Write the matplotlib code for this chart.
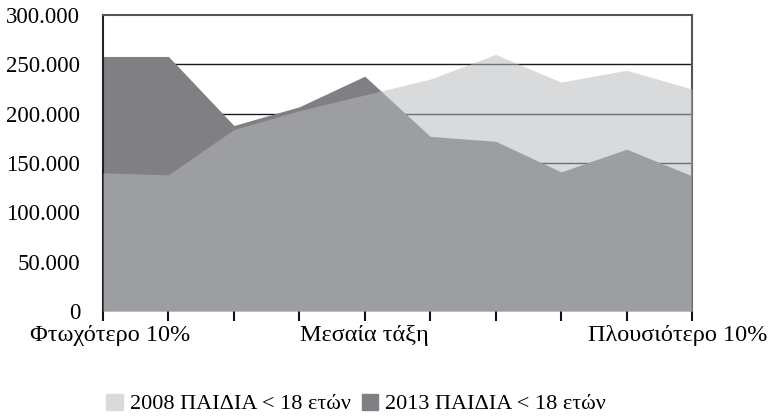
import numpy as np
import matplotlib.pyplot as plt
from matplotlib.patches import Patch
from matplotlib.transforms import ScaledTranslation

# Income deciles, poorest to richest
deciles = np.arange(10)
tick_labels = ["Φτωχότερο 10%", "", "", "", "Μεσαία τάξη", "", "", "", "", "Πλουσιότερο 10%"]

# Children under 18 per decile
kids_2008 = [140000, 138000, 184000, 203000, 219000, 235000, 260000, 232000, 244000, 225000]
kids_2013 = [258000, 258000, 188000, 207000, 238000, 177000, 172000, 141000, 164000, 137000]

y_ticks = [0, 50000, 100000, 150000, 200000, 250000, 300000]
y_labels = ["0", "50.000", "100.000", "150.000", "200.000", "250.000", "300.000"]

plt.rcParams['font.family'] = ['Liberation Serif', 'DejaVu Serif']

fig = plt.figure(figsize=(7.72, 4.16), dpi=100)
ax = fig.add_axes([103 / 772, 1 - 311 / 416, 589 / 772, 296 / 416])

# gridlines sit below both areas
for v in y_ticks[1:-1]:
    ax.axhline(v, color='#1a1a1a', lw=1.0, zorder=1)

ax.fill_between(deciles, 0, kids_2013, color='#808084', lw=0, zorder=2)
ax.fill_between(deciles, 0, kids_2008, color='#b8babd', alpha=0.535, lw=0, zorder=3)

ax.set_xlim(0, 9)
ax.set_ylim(0, 300000)
ax.set_yticks(y_ticks)
ax.set_yticklabels(y_labels, fontsize=16.5)
ax.tick_params(axis='y', length=0, pad=16.5)

ax.set_xticks(deciles)
ax.set_xticklabels(tick_labels, fontsize=17.5)
ax.tick_params(axis='x', length=7, width=1.5, color='#111111', direction='out', pad=3)
xl = ax.get_xticklabels()
xl[0].set_transform(xl[0].get_transform() + ScaledTranslation(0.07, 0, fig.dpi_scale_trans))
xl[-1].set_transform(xl[-1].get_transform() + ScaledTranslation(-0.14, 0, fig.dpi_scale_trans))

for side in ['top', 'right']:
    ax.spines[side].set_color('#555555')
    ax.spines[side].set_linewidth(1.5)
ax.spines['left'].set_color('#222222')
ax.spines['left'].set_linewidth(1.5)
ax.spines['bottom'].set_visible(False)

handles = [Patch(color='#d9dadc', label='2008 ΠΑΙΔΙΑ < 18 ετών'),
           Patch(color='#808084', label='2013 ΠΑΙΔΙΑ < 18 ετών')]
fig.legend(handles=handles, loc='center', bbox_to_anchor=(356 / 772, 1 - 404 / 416),
           ncol=2, frameon=False, fontsize=16, handlelength=0.75, handleheight=0.75,
           handletextpad=0.3, columnspacing=0.5)

fig.savefig("out.png", dpi=100)
